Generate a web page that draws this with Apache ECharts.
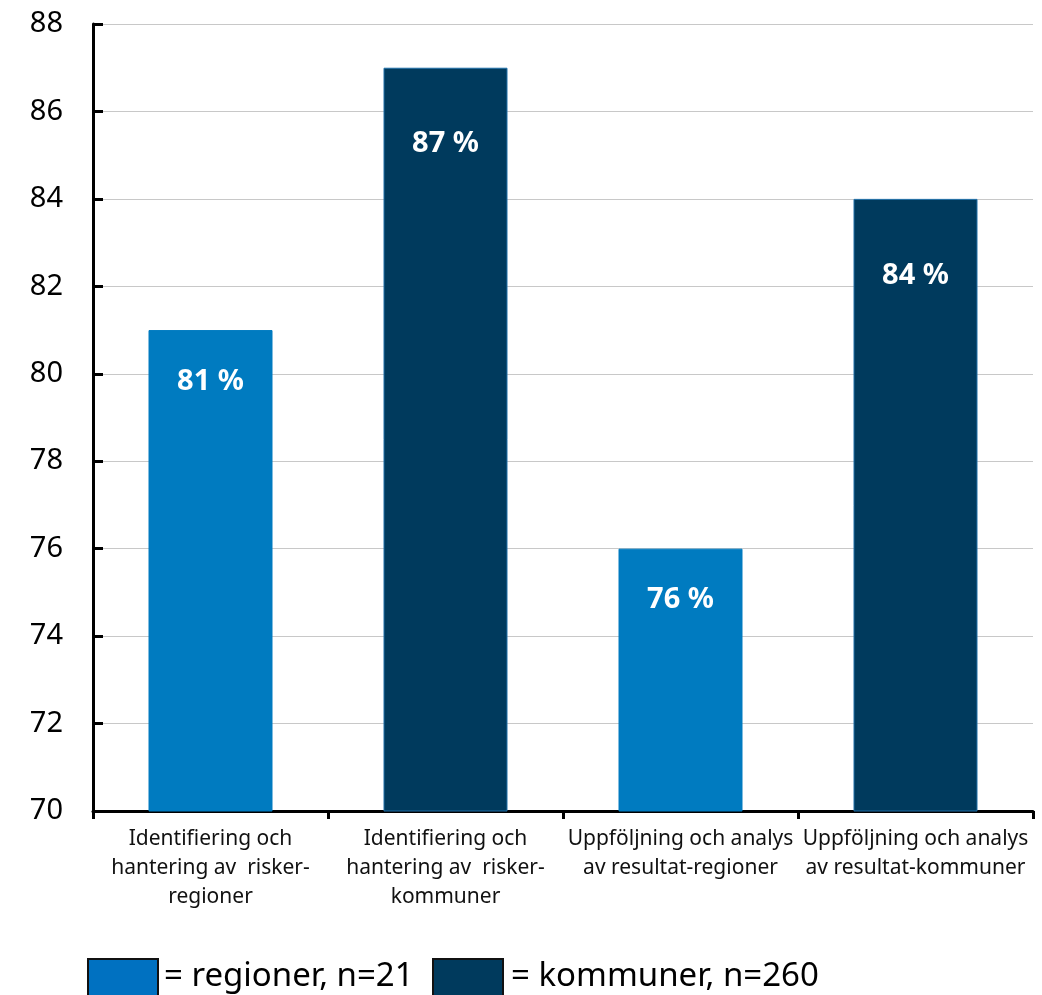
<!DOCTYPE html>
<html>
<head>
<meta charset="utf-8">
<script src="https://cdn.jsdelivr.net/npm/echarts@6/dist/echarts.min.js"></script>
<style>
  html, body { margin: 0; padding: 0; background: #fff; }
  #chart { width: 1042px; height: 995px; }
</style>
</head>
<body>
<div id="chart"></div>
<script>
// Categories (x axis) and their values in percent
const categories = [
  'Identifiering och\nhantering av  risker-\nregioner',
  'Identifiering och\nhantering av  risker-\nkommuner',
  'Uppföljning och analys\nav resultat-regioner',
  'Uppföljning och analys\nav resultat-kommuner'
];
const values = [81, 87, 76, 84];
// Which group each bar belongs to: 0 = regioner, 1 = kommuner
const groups = [0, 1, 0, 1];
const groupColors = ['#007bc0', '#003a5d'];
const legendColors = ['#0071c1', '#003a5d'];
const legendLabels = ['= regioner, n=21', '= kommuner, n=260'];

const FONT = '"Noto Sans", "Open Sans", sans-serif';

const chart = echarts.init(document.getElementById('chart'), null, { renderer: 'canvas' });

chart.setOption({
  animation: false,
  backgroundColor: '#ffffff',
  grid: { left: 93, right: 9, top: 24, bottom: 184, containLabel: false },
  xAxis: {
    type: 'category',
    data: categories,
    axisLine: { lineStyle: { color: '#000', width: 3 } },
    axisTick: { show: true, length: 8, lineStyle: { color: '#000', width: 3 } },
    axisLabel: {
      interval: 0,
      color: '#111',
      fontFamily: FONT,
      fontSize: 21,
      lineHeight: 29,
      margin: 14,
      align: 'center'
    }
  },
  yAxis: {
    type: 'value',
    min: 70,
    max: 88,
    interval: 2,
    axisLine: { show: true, lineStyle: { color: '#000', width: 3 } },
    axisTick: { show: true, inside: true, length: 10, lineStyle: { color: '#000', width: 3 } },
    axisLabel: { color: '#000', fontFamily: FONT, fontSize: 29, margin: 30 },
    splitLine: { show: true, lineStyle: { color: '#c8c8c8', width: 1 } }
  },
  series: [{
    type: 'bar',
    barWidth: 124,
    data: values.map((v, i) => ({
      value: v,
      itemStyle: {
        color: groupColors[groups[i]],
        borderColor: groups[i] === 1 ? '#1f6fa8' : groupColors[0],
        borderWidth: 1
      },
      label: { distance: groups[i] === 1 ? 62 : 37 }
    })),
    label: {
      show: true,
      position: 'insideTop',
      formatter: p => p.value + ' %',
      color: '#ffffff',
      fontFamily: FONT,
      fontWeight: 'bold',
      fontSize: 29
    }
  }],
  graphic: [
    { type: 'rect', left: 87, top: 958, shape: { width: 70, height: 40 },
      style: { fill: legendColors[0], stroke: '#111', lineWidth: 2 } },
    { type: 'text', left: 164, top: 960,
      style: { text: legendLabels[0], font: '33px ' + FONT, fill: '#000' } },
    { type: 'rect', left: 432, top: 958, shape: { width: 70, height: 40 },
      style: { fill: legendColors[1], stroke: '#111', lineWidth: 2 } },
    { type: 'text', left: 511, top: 960,
      style: { text: legendLabels[1], font: '33px ' + FONT, fill: '#000' } }
  ]
});
</script>
</body>
</html>
